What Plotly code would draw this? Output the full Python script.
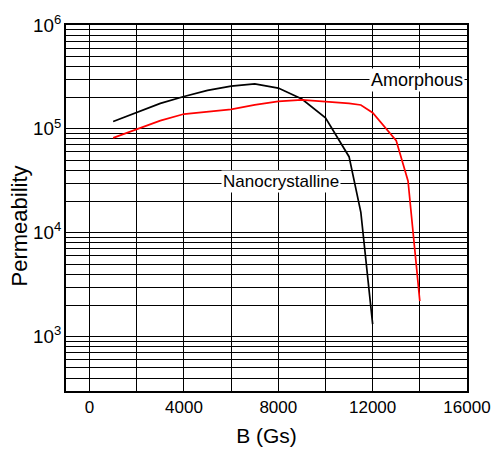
import plotly.graph_objects as go

b_nano = [1000, 2000, 3000, 4000, 5000, 6000, 7000, 8000, 9000, 10000, 11000, 11500, 12000]
mu_nano = [118000, 144000, 176000, 205000, 235000, 258000, 271000, 247000, 194000, 128000, 54000, 15700, 1320]

b_amor = [1000, 2000, 3000, 4000, 5000, 6000, 7000, 8000, 9000, 10000, 11000, 11500, 12000, 13000, 13500, 14000]
mu_amor = [82000, 99000, 120000, 139000, 147000, 154000, 170000, 184000, 190000, 183000, 176000, 170000, 143000, 77000, 31500, 2200]

x_ticks = [0, 4000, 8000, 12000, 16000]
labels = [("Amorphous", 16000, 5.475, 18, -2), ("Nanocrystalline", 10650, 4.49, 17, 0)]

font = "Liberation Sans"
fig = go.Figure()
fig.add_trace(go.Scatter(x=b_nano, y=mu_nano, mode="lines", line=dict(color="black", width=1.7), showlegend=False))
fig.add_trace(go.Scatter(x=b_amor, y=mu_amor, mode="lines", line=dict(color="red", width=1.7), showlegend=False))

for txt, xv, yv, fs, xs in labels:
    fig.add_annotation(x=xv, y=yv, text=txt, showarrow=False, xanchor="right", xshift=xs,
                       bgcolor="white", font=dict(family=font, size=fs, color="black"), borderpad=1)

fig.add_annotation(xref="paper", yref="paper", x=-0.115, y=0.452, text="Permeability", textangle=-90,
                   showarrow=False, xanchor="center", yanchor="middle",
                   font=dict(family=font, size=22, color="black"))

grid = dict(showgrid=True, gridcolor="black", gridwidth=1.2)
fig.update_xaxes(range=[-1000, 16000], tickvals=x_ticks, ticktext=[str(v) for v in x_ticks],
                 showline=True, linecolor="black", linewidth=1.5, mirror=True,
                 ticks="inside", ticklen=4, tickcolor="black", zeroline=False,
                 minor=dict(dtick=2000, tick0=0, showgrid=True, gridcolor="black", gridwidth=1.2,
                            ticks="inside", ticklen=4, tickcolor="black"),
                 title=dict(text="B (Gs)", font=dict(family=font, size=21, color="black"), standoff=12),
                 tickfont=dict(family=font, size=17, color="black"), **grid)
fig.update_yaxes(type="log", range=[2.4771, 6], dtick=1, exponentformat="power",
                 showline=True, linecolor="black", linewidth=1.5, mirror=True,
                 ticks="", minor=dict(dtick="D1", showgrid=True, gridcolor="black", gridwidth=1.2),
                 tickfont=dict(family=font, size=15, color="black"), **grid)
fig.update_layout(width=503, height=456, margin=dict(l=66, r=27, t=17, b=63),
                  plot_bgcolor="white", paper_bgcolor="white", font=dict(family=font))
fig.write_html("out.html", config={"displayModeBar": False},
               post_script="document.body.style.margin='0';")
